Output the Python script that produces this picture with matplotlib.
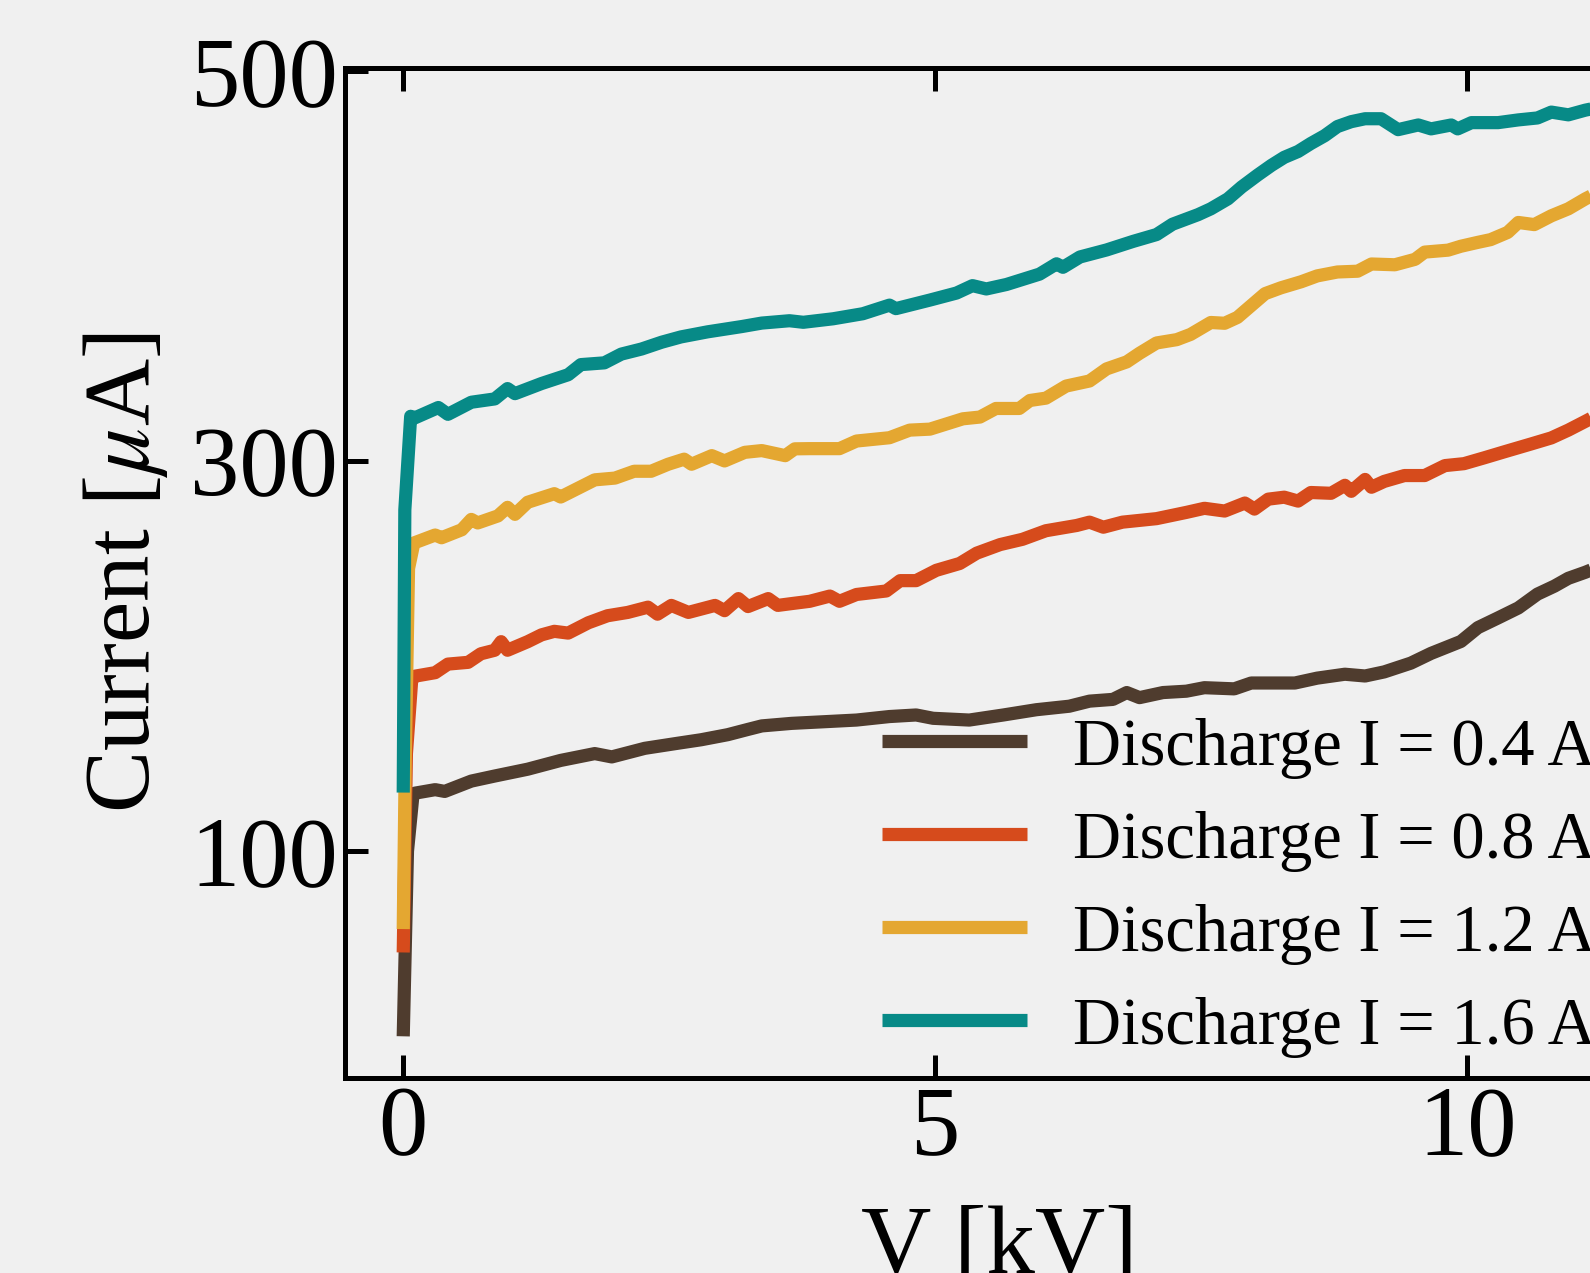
"""I-V curves of the probe current vs. bias voltage for four discharge currents."""
import matplotlib
matplotlib.use("Agg")
import matplotlib.pyplot as plt

BG = "#f0f0f0"

# V in kV, current in uA
V_04 = [0.0, 0.04, 0.09, 0.11, 0.30, 0.39, 0.64, 0.86, 1.17, 1.48, 1.80, 1.96, 2.27,
        2.58, 2.80, 3.05, 3.24, 3.37, 3.65, 3.94, 4.26, 4.57, 4.82, 4.98, 5.32, 5.64,
        5.95, 6.26, 6.45, 6.67, 6.80, 6.92, 7.14, 7.36, 7.53, 7.81, 7.97, 8.38, 8.59,
        8.85, 9.04, 9.22, 9.47, 9.66, 9.94, 10.10, 10.29, 10.48, 10.66, 10.82, 10.95,
        11.11, 11.2]
I_04 = [5, 100, 128, 129.7, 131.5, 130.6, 135.9, 138.5, 142, 146.5, 150, 148.3, 152.7,
        155.3, 157.1, 159.7, 162.4, 164.2, 165.5, 166.3, 167.2, 169, 169.8, 168.1, 167.2,
        169.8, 172.5, 174.3, 176.9, 177.8, 181.3, 178.7, 181.3, 182, 183.8, 183.2, 186.2,
        186.2, 188.7, 190.7, 189.8, 191.9, 196.4, 201.4, 207.5, 214.6, 219.6, 224.7,
        231.8, 235.9, 239.9, 243, 245]

V_08 = [0.0, 0.03, 0.08, 0.11, 0.30, 0.42, 0.61, 0.73, 0.86, 0.92, 0.98, 1.17, 1.30,
        1.42, 1.55, 1.74, 1.92, 2.11, 2.30, 2.39, 2.52, 2.68, 2.93, 3.02, 3.15, 3.24,
        3.43, 3.52, 3.66, 3.82, 4.01, 4.10, 4.26, 4.54, 4.67, 4.82, 5.01, 5.23, 5.39,
        5.61, 5.82, 6.04, 6.33, 6.45, 6.58, 6.76, 7.08, 7.36, 7.53, 7.72, 7.91, 8.00,
        8.13, 8.28, 8.41, 8.53, 8.72, 8.85, 8.91, 9.04, 9.10, 9.22, 9.41, 9.60, 9.79,
        9.97, 10.16, 10.35, 10.60, 10.79, 10.95, 11.11, 11.2]
I_08 = [48, 150, 188, 189.7, 191.5, 195.9, 196.8, 201.2, 203, 207.4, 203, 207.4, 210.9,
        212.7, 211.8, 217.1, 220.7, 222.4, 225.1, 221.5, 226, 222.4, 226, 223.3, 229.5,
        225.4, 229.5, 226, 227, 228.1, 230.8, 228.1, 231.6, 233.4, 238.7, 238.7, 244,
        247.5, 252.8, 257.2, 259.9, 264.3, 267, 268.7, 266.1, 268.7, 270.5, 273.7, 275.8,
        274.4, 278.5, 275.4, 280.5, 281.5, 279.5, 283.9, 283.5, 287.6, 284.5, 290.6,
        286.6, 289.6, 292.6, 292.6, 297.7, 298.7, 301.7, 304.8, 308.8, 311.9, 315.9,
        320.4, 323]

V_12 = [0.0, 0.02, 0.05, 0.10, 0.30, 0.36, 0.55, 0.64, 0.70, 0.89, 0.98, 1.05, 1.17,
        1.42, 1.48, 1.80, 1.99, 2.17, 2.33, 2.49, 2.64, 2.71, 2.90, 3.02, 3.21, 3.37,
        3.59, 3.68, 3.82, 4.10, 4.26, 4.57, 4.76, 4.95, 5.26, 5.42, 5.57, 5.79, 5.89,
        6.04, 6.23, 6.45, 6.61, 6.80, 6.92, 7.08, 7.27, 7.40, 7.59, 7.72, 7.84, 7.97,
        8.10, 8.25, 8.44, 8.59, 8.78, 8.97, 9.10, 9.32, 9.51, 9.60, 9.82, 9.94, 10.10,
        10.22, 10.38, 10.48, 10.63, 10.79, 10.95, 11.11, 11.2]
I_12 = [60, 150, 245, 258, 262.1, 260.7, 264.8, 270.1, 268.3, 271.9, 276.3, 272.7, 278.9,
        283.3, 281.6, 290.4, 291.3, 294.8, 294.8, 298.4, 301, 298.4, 302.8, 300.1, 304.5,
        305.4, 302.8, 306.3, 306.4, 306.4, 310.3, 312, 315.9, 316.4, 321.7, 322.6, 327,
        327, 331.1, 332.3, 338.5, 341.1, 347.3, 350.9, 355.3, 360.6, 362.3, 365, 371.1,
        370.7, 373.7, 379.8, 385.9, 388.9, 392, 395, 397, 397.4, 401.1, 400.7, 403.5,
        407.2, 408.2, 410.2, 412.2, 413.6, 417.3, 422.4, 421.3, 425.8, 429.4, 434.5, 437]

V_16 = [0.0, 0.015, 0.07, 0.11, 0.33, 0.42, 0.64, 0.86, 0.98, 1.05, 1.30, 1.55, 1.67,
        1.89, 2.05, 2.24, 2.43, 2.61, 2.86, 3.18, 3.37, 3.63, 3.76, 4.04, 4.32, 4.57,
        4.63, 4.95, 5.20, 5.35, 5.48, 5.67, 5.98, 6.14, 6.20, 6.36, 6.61, 6.86, 7.08,
        7.23, 7.47, 7.59, 7.75, 7.88, 8.03, 8.16, 8.28, 8.41, 8.53, 8.66, 8.78, 8.91,
        9.04, 9.19, 9.35, 9.54, 9.66, 9.85, 9.91, 10.04, 10.29, 10.48, 10.66, 10.79,
        10.95, 11.11, 11.2]
I_16 = [130, 275, 323, 322.2, 327.5, 324, 330.2, 331.9, 337.2, 334.6, 339.8, 344.3, 349.5,
        350.4, 354.9, 357.5, 361, 363.7, 366.3, 369, 370.8, 372, 371.2, 373, 375.6, 380,
        378.2, 382.6, 386.2, 390, 388.3, 390.6, 395.9, 401.2, 399.4, 404.7, 408.3, 412.7,
        416.2, 421.5, 426.4, 429.4, 434.5, 440.6, 446.7, 451.7, 455.8, 458.8, 462.9,
        466.9, 471.6, 474.1, 475.6, 475.6, 470, 472.4, 470.4, 472.4, 470.4, 473.6, 473.6,
        475, 476, 479, 477.6, 480, 481]

LABELS = ["Discharge I = 0.4 A", "Discharge I = 0.8 A",
          "Discharge I = 1.2 A", "Discharge I = 1.6 A"]
COLORS = ["#4f3c2e", "#d64b1c", "#e4a731", "#078a87"]

plt.rcParams.update({
    "font.family": "serif",
    "font.serif": ["Liberation Serif", "DejaVu Serif"],
    "mathtext.fontset": "stix",
    "axes.linewidth": 3.6,
})

fig = plt.figure(figsize=(15.9, 12.73), dpi=100, facecolor=BG)
# axes runs past the right edge of the canvas, as in the original crop
ax = fig.add_axes([0.2168, 0.153, 0.8231, 0.7934], facecolor=BG)

series = [(V_04, I_04), (V_08, I_08), (V_12, I_12), (V_16, I_16)]
for (v, i), lab, col in zip(series, LABELS, COLORS):
    ax.plot(v, i, color=col, lw=9.5, label=lab, solid_capstyle="butt")

ax.set_xlim(-0.55, 11.75)
ax.set_ylim(-16.5, 501.5)
ax.set_xticks([0, 5, 10])
ax.set_yticks([100, 300, 500])
ax.tick_params(direction="in", length=16.5, width=3.6, top=True, right=True,
               labelsize=71, pad=5)
ax.set_xlabel("V [kV]", fontsize=70, labelpad=22)
ax.set_ylabel(r"Current [$\mu$A]", fontsize=67, labelpad=14)

ax.legend(loc="upper left", bbox_to_anchor=(0.4106, 0.357), frameon=False,
          fontsize=48, borderpad=0, borderaxespad=0, handlelength=2.17,
          handletextpad=0.7, labelspacing=0.48)

fig.savefig("out.png", dpi=100, facecolor=BG)
